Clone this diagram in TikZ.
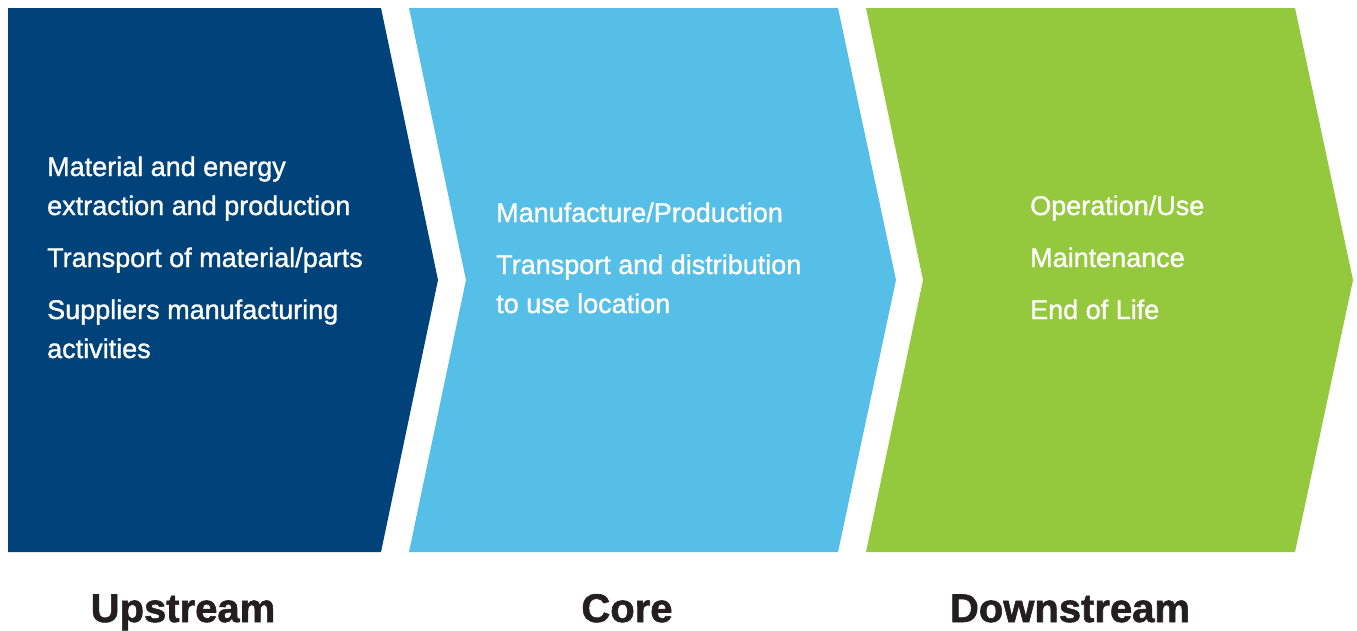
\documentclass[tikz,border=0pt]{standalone}
\usepackage{fontspec}
\setmainfont{Liberation Sans}
\newfontfamily\itemfont[FakeBold=1.2]{Liberation Sans}
\newfontfamily\stagefont[FakeBold=1.5]{Liberation Sans Bold}
\definecolor{upblue}{HTML}{00437A}
\definecolor{coreblue}{HTML}{55BFE8}
\definecolor{downgreen}{HTML}{95C93D}
\definecolor{stageblack}{HTML}{231F20}

\begin{document}
\begin{tikzpicture}[x=1pt, y=-1pt,
	item/.style={text=white, anchor=base west, inner sep=0pt, font=\itemfont\fontsize{27}{39}\selectfont},
	stage/.style={text=stageblack, anchor=base, inner sep=0pt, font=\stagefont\fontsize{40}{48}\selectfont}]
	\useasboundingbox (0,0) rectangle (1357,630);
	\fill[upblue] (8,8) -- (381,8) -- (438,280) -- (381,552) -- (8,552) -- cycle;
	\fill[coreblue] (409,8) -- (838,8) -- (896,280) -- (838,552) -- (409,552) -- (466,280) -- cycle;
	\fill[downgreen] (866,8) -- (1295,8) -- (1353,280) -- (1295,552) -- (866,552) -- (923,280) -- cycle;

	% upstream
	\node[item] (up_1a) at (47,176) {Material and energy};
	\node[item] (up_1b) at (47,215) {extraction and production};
	\node[item] (up_2) at (47,267) {Transport of material/parts};
	\node[item] (up_3a) at (47,319) {Suppliers manufacturing};
	\node[item] (up_3b) at (47,358) {activities};

	% core
	\node[item] (core_1) at (496,222) {Manufacture/Production};
	\node[item] (core_2a) at (496,274) {Transport and distribution};
	\node[item] (core_2b) at (496,313) {to use location};

	% downstream
	\node[item] (down_1) at (1030,215) {Operation/Use};
	\node[item] (down_2) at (1030,267) {Maintenance};
	\node[item] (down_3) at (1030,319) {End of Life};

	\node[stage] (upstream) at (183,622) {Upstream};
	\node[stage] (core) at (627,622) {Core};
	\node[stage] (downstream) at (1070,622) {Downstream};
\end{tikzpicture}
\end{document}
